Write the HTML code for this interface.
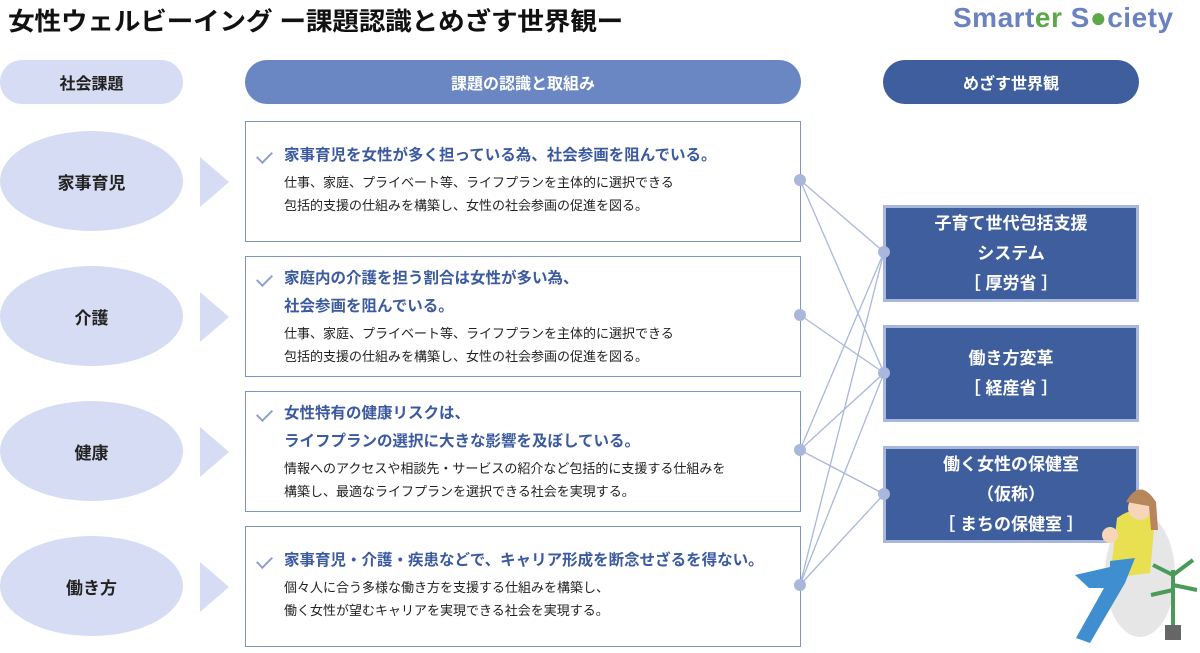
<!DOCTYPE html>
<html><head><meta charset="utf-8"><style>
*{margin:0;padding:0;box-sizing:border-box}
body{width:1200px;height:653px;background:#fff;position:relative;overflow:hidden;font-family:"Liberation Sans","Noto Sans CJK JP",sans-serif}
.a{position:absolute}
.title{left:8px;top:2px;font-size:25px;font-weight:bold;color:#111;letter-spacing:-0.3px;transform:scaleX(1.07);transform-origin:left}
.logo{left:953px;top:2px;font-size:28px;font-weight:bold;color:#6a82c0;letter-spacing:0.5px}
.pill{display:flex;align-items:center;justify-content:center;font-weight:bold;font-size:16px;border-radius:22px;height:44px;top:60px}
.ell{width:183px;height:100px;border-radius:50%;background:#d5dcf3;display:flex;align-items:center;justify-content:center;font-weight:bold;font-size:17px;color:#222;left:0}
.chev{left:200px;width:0;height:0;border-top:25px solid transparent;border-bottom:25px solid transparent;border-left:29px solid #d5dcf3}
.box{left:245px;width:556px;height:121px;border:1.5px solid #7f93c4;background:#fff;padding:20px 0 0 38px}
.box h3{font-size:15.5px;color:#3b5aa0;font-weight:bold;line-height:28px;position:relative}
.box h3:before{content:"";position:absolute;left:-24px;top:6px;width:7px;height:13px;border-right:2px solid #8ea0cc;border-bottom:2px solid #8ea0cc;transform:rotate(45deg)}
.box p{font-size:13px;color:#222;line-height:23px;margin-top:1px}
.rb{left:883px;width:256px;background:#3f5e9e;border:3px solid #a7b7dd;color:#fff;font-weight:bold;font-size:17px;line-height:30px;text-align:center;display:flex;flex-direction:column;justify-content:center}
</style></head><body>
<div class="a title">女性ウェルビーイング ー課題認識とめざす世界観ー</div>
<div class="a logo">Smart<span style="color:#5aa84a">er</span> S<span style="color:#5aa84a">●</span>ciety</div>
<div class="a pill" style="left:0;width:183px;background:#d5dcf3;color:#222">社会課題</div>
<div class="a pill" style="left:245px;width:556px;background:#6a86c3;color:#fff">課題の認識と取組み</div>
<div class="a pill" style="left:883px;width:256px;background:#3f5e9e;color:#fff">めざす世界観</div>

<div class="a ell" style="top:131px">家事育児</div>
<div class="a ell" style="top:266px">介護</div>
<div class="a ell" style="top:401px">健康</div>
<div class="a ell" style="top:536px">働き方</div>
<div class="a chev" style="top:157px"></div>
<div class="a chev" style="top:292px"></div>
<div class="a chev" style="top:427px"></div>
<div class="a chev" style="top:562px"></div>

<div class="a box" style="top:121px"><h3>家事育児を女性が多く担っている為、社会参画を阻んでいる。</h3><p>仕事、家庭、プライベート等、ライフプランを主体的に選択できる<br>包括的支援の仕組みを構築し、女性の社会参画の促進を図る。</p></div>
<div class="a box" style="top:256px;padding-top:8px"><h3>家庭内の介護を担う割合は女性が多い為、<br>社会参画を阻んでいる。</h3><p>仕事、家庭、プライベート等、ライフプランを主体的に選択できる<br>包括的支援の仕組みを構築し、女性の社会参画の促進を図る。</p></div>
<div class="a box" style="top:391px;padding-top:8px"><h3>女性特有の健康リスクは、<br>ライフプランの選択に大きな影響を及ぼしている。</h3><p>情報へのアクセスや相談先・サービスの紹介など包括的に支援する仕組みを<br>構築し、最適なライフプランを選択できる社会を実現する。</p></div>
<div class="a box" style="top:526px;padding-top:20px"><h3>家事育児・介護・疾患などで、キャリア形成を断念せざるを得ない。</h3><p>個々人に合う多様な働き方を支援する仕組みを構築し、<br>働く女性が望むキャリアを実現できる社会を実現する。</p></div>

<svg class="a" style="left:0;top:0" width="1200" height="653">
<g stroke="#a9b7dc" stroke-width="1.3">
<line x1="800" y1="180" x2="884" y2="252"/><line x1="800" y1="180" x2="884" y2="373"/>
<line x1="800" y1="315" x2="884" y2="373"/>
<line x1="800" y1="450" x2="884" y2="252"/><line x1="800" y1="450" x2="884" y2="373"/><line x1="800" y1="450" x2="884" y2="494"/>
<line x1="800" y1="585" x2="884" y2="252"/><line x1="800" y1="585" x2="884" y2="373"/><line x1="800" y1="585" x2="884" y2="494"/>
</g>
<g fill="#a9b7dc">
<circle cx="800" cy="180" r="6"/><circle cx="800" cy="315" r="6"/><circle cx="800" cy="450" r="6"/><circle cx="800" cy="585" r="6"/>
</g>
</svg>

<div class="a rb" style="top:205px;height:97px">子育て世代包括支援<br>システム<br>［ 厚労省 ］</div>
<div class="a rb" style="top:325px;height:97px">働き方変革<br>［ 経産省 ］</div>
<div class="a rb" style="top:446px;height:97px">働く女性の保健室<br>（仮称）<br>［ まちの保健室 ］</div>
<svg class="a" style="left:0;top:0" width="1200" height="653">
<g fill="#a9b7dc"><circle cx="884" cy="252" r="6"/><circle cx="884" cy="373" r="6"/><circle cx="884" cy="494" r="6"/></g>
<ellipse cx="1140" cy="575" rx="35" ry="62" fill="#e6e6e6"/>
<path d="M1117 518 q20-15 38 0 l-5 55 -40 5z" fill="#e8e050"/>
<circle cx="1140" cy="508" r="12" fill="#f6d5b8"/>
<path d="M1126 502 q14-25 30 0 l2 28 -7 0 -2-24z" fill="#b7865a"/>
<circle cx="1110" cy="535" r="8" fill="#f6d5b8"/>
<path d="M1075 575 l35-8 0 -6 25-3 -10 25 -35 60 -14 -5 28-50 -15 0z" fill="#3f8fd0"/>
<rect x="1165" y="625" width="16" height="15" fill="#666"/>
<path d="M1173 625 l0-55 M1173 575 l-20-10 M1173 575 l20-15 M1173 590 l-22 5 M1173 585 l24 5" stroke="#4a9a5a" stroke-width="4"/>
</svg>
</body></html>
